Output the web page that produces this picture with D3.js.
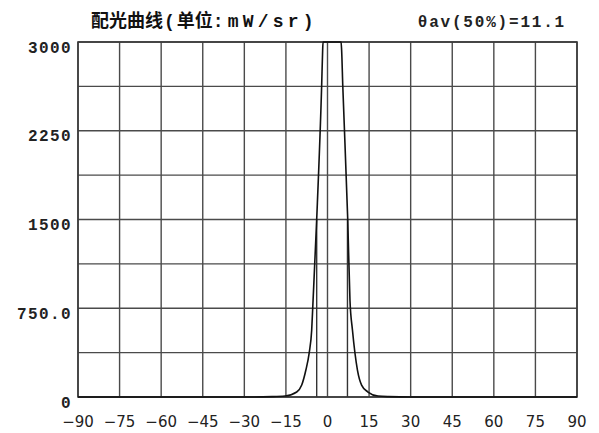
<!DOCTYPE html>
<html>
<head>
<meta charset="utf-8">
<script src="https://cdn.jsdelivr.net/npm/d3@7"></script>
<style>
  body { margin: 0; background: #fff; }
  .mono { font-family: "Liberation Mono", "DejaVu Sans Mono", monospace; font-weight: bold; }
</style>
</head>
<body>
<div id="chart"></div>
<script>
// angle (deg) vs intensity (mW/sr)
var angles    = [-90, -30, -20, -15.3, -11.1, -9.3, -7.8, -6.6, -5.7, -5.2, -3.9, -2.1, -1.75, -1.6, 4.9, 5.1, 5.5, 7.3, 8.1, 9.0, 9.9, 10.8, 12.3, 14.6, 18.2, 22, 30, 90];
var intensity = [0, 0, 3, 8, 42, 101, 228, 372, 566, 820, 1500, 2637, 2930, 3000, 3000, 2930, 2637, 1500, 820, 566, 372, 228, 101, 42, 8, 3, 0, 0];

// half-intensity markers (θav(50%) = 11.1)
var halfAngles = [-3.9, 7.2];
var halfValue = 1500;

var xTicks = [-90, -75, -60, -45, -30, -15, 0, 15, 30, 45, 60, 75, 90];
var yTicks = [0, 750, 1500, 2250, 3000];
var yTickLabels = ["0", "750.0", "1500", "2250", "3000"];
var yGrid = [0, 375, 750, 1125, 1500, 1875, 2250, 2625, 3000];

var W = 599, H = 433;
var margin = { top: 42, right: 22, bottom: 36, left: 78 },
    width = W - margin.left - margin.right,
    height = H - margin.top - margin.bottom;

var svg = d3.select("#chart").append("svg")
  .attr("width", W).attr("height", H);

var g = svg.append("g")
  .attr("transform", "translate(" + margin.left + "," + margin.top + ")");

var x = d3.scaleLinear().domain([-90, 90]).range([0, width]);
var y = d3.scaleLinear().domain([0, 3000]).range([height, 0]);

// grid
g.selectAll(".vgrid").data(xTicks).enter().append("line")
  .attr("x1", function(d) { return x(d); }).attr("x2", function(d) { return x(d); })
  .attr("y1", 0).attr("y2", height)
  .attr("stroke", "#4a4a4a").attr("stroke-width", 1.4);

g.selectAll(".hgrid").data(yGrid).enter().append("line")
  .attr("x1", 0).attr("x2", width)
  .attr("y1", function(d) { return y(d); }).attr("y2", function(d) { return y(d); })
  .attr("stroke", "#4a4a4a").attr("stroke-width", 1.4);

g.append("rect")
  .attr("width", width).attr("height", height)
  .attr("fill", "none").attr("stroke", "#3a3a3a").attr("stroke-width", 1.6);

// half-intensity lines
g.selectAll(".half").data(halfAngles).enter().append("line")
  .attr("x1", function(d) { return x(d); }).attr("x2", function(d) { return x(d); })
  .attr("y1", y(0)).attr("y2", y(halfValue))
  .attr("stroke", "#333").attr("stroke-width", 1.4);

// curve
var pts = angles.map(function(a, i) { return [a, intensity[i]]; });
var line = d3.line()
  .x(function(d) { return x(d[0]); })
  .y(function(d) { return y(d[1]); })
  .curve(d3.curveMonotoneX);

g.append("path").datum(pts)
  .attr("d", line)
  .attr("fill", "none").attr("stroke", "#111").attr("stroke-width", 1.6);

// y labels
g.selectAll(".ylab").data(yTicks).enter().append("text")
  .attr("class", "mono")
  .attr("x", -6)
  .attr("y", function(d) { return y(d) + 5; })
  .attr("dy", "0.35em")
  .attr("text-anchor", "end")
  .attr("font-size", 16)
  .attr("letter-spacing", 1.4)
  .attr("fill", "#222")
  .text(function(d, i) { return yTickLabels[i]; });

// x labels
var fmt = d3.format("d");
g.selectAll(".xlab").data(xTicks).enter().append("text")
  .attr("x", function(d) { return x(d); })
  .attr("y", height + 25)
  .attr("dy", "0.35em")
  .attr("text-anchor", "middle")
  .attr("font-family", "DejaVu Sans, sans-serif")
  .attr("font-size", 15)
  .attr("fill", "#222")
  .text(function(d) { return fmt(d); });

// title
var title = svg.append("text")
  .attr("x", 91).attr("y", 21).attr("dy", "0.35em")
  .attr("fill", "#111");
title.append("tspan")
  .attr("font-family", "Noto Sans CJK SC").attr("font-weight", "bold").attr("font-size", 18)
  .text("配光曲线");
title.append("tspan").attr("class", "mono").attr("font-size", 18)
  .attr("dx", 1).attr("letter-spacing", 2).text("(");
title.append("tspan")
  .attr("font-family", "Noto Sans CJK SC").attr("font-weight", "bold").attr("font-size", 18)
  .text("单位");
title.append("tspan").attr("class", "mono").attr("font-size", 18)
  .attr("letter-spacing", 4.2).text(":mW/sr)");

svg.append("text")
  .attr("class", "mono")
  .attr("x", 566).attr("y", 21).attr("dy", "0.35em")
  .attr("text-anchor", "end")
  .attr("font-size", 16)
  .attr("letter-spacing", 1.8)
  .attr("fill", "#222")
  .text("θav(50%)=11.1");
</script>
</body>
</html>
